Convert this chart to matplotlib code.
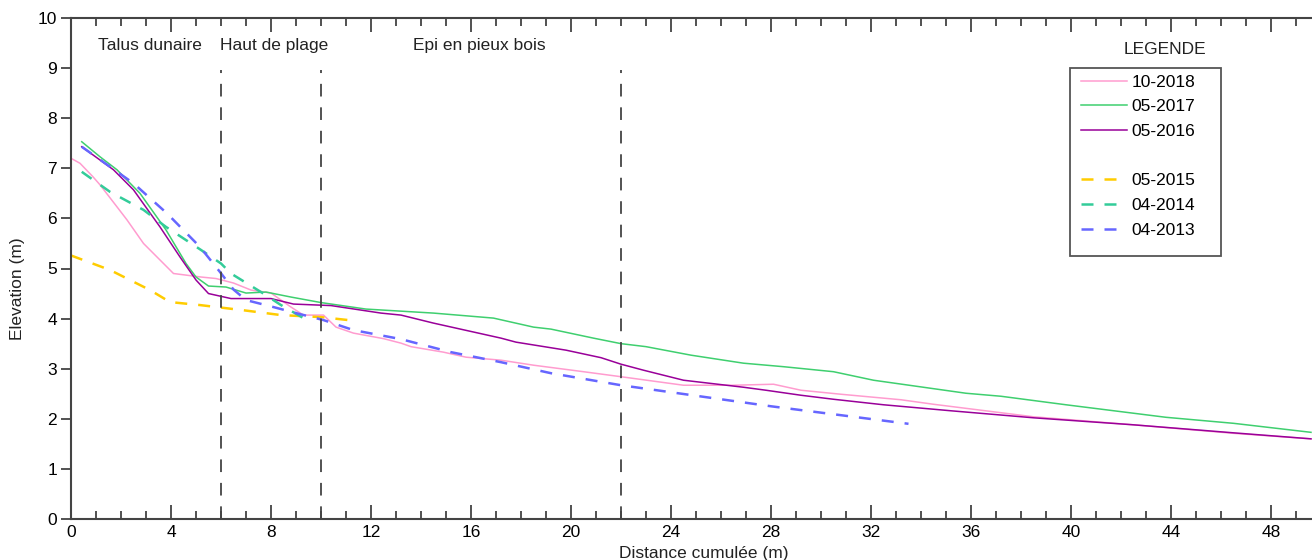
import matplotlib.pyplot as plt
from matplotlib.lines import Line2D
from matplotlib.patches import Rectangle

plt.rcParams['font.family'] = ['Liberation Sans', 'DejaVu Sans']

# profils de plage (distance cumulee m, elevation m)
x_2018 = [0, 0.36, 0.88, 1.16, 1.84, 2.24, 2.9, 3.56, 4.1, 5.2, 5.8, 6.5, 7.2, 8.0, 8.8,
          9.3, 10.1, 10.6, 11.3, 12.5, 13.2, 13.6, 14.9, 15.8, 17.2, 18.5, 20.5, 22.0,
          24.5, 26.5, 28.1, 29.2, 30.8, 33.2, 34.5, 38.5, 42.5, 46.5, 49.6]
y_2018 = [7.2, 7.1, 6.83, 6.67, 6.23, 5.97, 5.5, 5.17, 4.9, 4.83, 4.8, 4.71, 4.57, 4.51,
          4.23, 4.07, 4.07, 3.83, 3.71, 3.6, 3.51, 3.44, 3.33, 3.23, 3.17, 3.07, 2.94,
          2.84, 2.67, 2.67, 2.69, 2.57, 2.49, 2.38, 2.29, 2.04, 1.88, 1.71, 1.6]

x_2017 = [0.43, 1.16, 1.84, 2.76, 3.8, 4.6, 5.0, 5.5, 6.2, 7.0, 7.8, 8.8, 10.0, 11.8, 14.5,
          16.9, 18.5, 19.2, 20.9, 22.0, 23.0, 24.8, 26.9, 28.5, 30.5, 32.1, 35.8, 37.2,
          39.8, 43.8, 46.5, 49.6]
y_2017 = [7.53, 7.23, 6.97, 6.5, 5.77, 5.1, 4.83, 4.65, 4.63, 4.51, 4.53, 4.43, 4.32, 4.19,
          4.11, 4.01, 3.83, 3.79, 3.61, 3.5, 3.44, 3.27, 3.11, 3.04, 2.94, 2.77, 2.51,
          2.45, 2.28, 2.03, 1.91, 1.73]

x_2016 = [0.43, 1.7, 2.5, 3.56, 4.36, 5.0, 5.5, 6.4, 8.0, 8.9, 10.4, 12.4, 13.2, 14.5,
          17.2, 17.8, 19.8, 21.2, 22.0, 22.9, 24.5, 26.9, 27.8, 29.2, 30.5, 32.5, 35.2,
          38.5, 42.5, 46.5, 49.6]
y_2016 = [7.43, 6.97, 6.57, 5.83, 5.23, 4.77, 4.5, 4.4, 4.4, 4.29, 4.26, 4.11, 4.07, 3.91,
          3.61, 3.53, 3.37, 3.22, 3.09, 2.97, 2.77, 2.63, 2.57, 2.47, 2.39, 2.28, 2.16,
          2.02, 1.88, 1.72, 1.6]

x_2015 = [0, 1.56, 3.16, 3.96, 5.16, 6.0, 7.0, 8.4, 10.0, 11.1]
y_2015 = [5.26, 4.97, 4.57, 4.33, 4.27, 4.22, 4.16, 4.07, 4.03, 3.97]

x_2014 = [0.43, 1.56, 2.9, 3.8, 5.2, 6.0, 6.4, 7.6, 8.4, 9.3]
y_2014 = [6.93, 6.53, 6.17, 5.83, 5.37, 5.1, 4.9, 4.53, 4.27, 4.01]

x_2013 = [0.43, 2.5, 3.84, 5.16, 5.96, 6.5, 7.0, 8.1, 9.0, 10.1, 11.3, 13.2, 15.2, 17.2,
          19.2, 22.0, 28.0, 33.5]
y_2013 = [7.43, 6.7, 6.1, 5.43, 4.93, 4.58, 4.37, 4.23, 4.11, 3.97, 3.77, 3.59, 3.33,
          3.13, 2.91, 2.67, 2.25, 1.9]

# limites de zones
limites = [6, 10, 22]
zones = ['Talus dunaire', 'Haut de plage', 'Epi en pieux bois']
zones_x = [1.08, 5.96, 13.68]

fig = plt.figure(figsize=(13.12, 5.6), dpi=100)
ax = fig.add_axes([71/1312, 41/560, 1241/1312, 501/560])

fs = 12.5
tiret = (4.8, 4.4)

l1, = ax.plot(x_2018, y_2018, color='#ff9ccf', lw=1.1, label='10-2018')
l2, = ax.plot(x_2017, y_2017, color='#3fcf6f', lw=1.1, label='05-2017')
l3, = ax.plot(x_2016, y_2016, color='#990099', lw=1.1, label='05-2016')
l4, = ax.plot(x_2015, y_2015, color='#ffcc00', lw=1.8, dashes=tiret, label='05-2015')
l5, = ax.plot(x_2014, y_2014, color='#33cc99', lw=1.8, dashes=tiret, label='04-2014')
l6, = ax.plot(x_2013, y_2013, color='#6666ff', lw=1.8, dashes=tiret, label='04-2013')

for xl in limites:
    ax.plot([xl, xl], [0, 8.96], color='#444444', lw=1.3, dashes=(7, 6))

for t, xt in zip(zones, zones_x):
    ax.text(xt, 9.46, t, fontsize=fs, va='center', ha='left', color='#222222')

ax.set_xlim(0, 49.64)
ax.set_ylim(0, 10)
ax.set_xticks(range(0, 49, 4))
ax.set_xticks(range(0, 50), minor=True)
ax.set_yticks(range(0, 11))

ax.tick_params(axis='x', which='major', direction='in', length=10, width=1.2,
               top=True, labelsize=fs, color='#333333', pad=4)
ax.tick_params(axis='x', which='minor', direction='in', length=6, width=1.2,
               top=True, color='#333333')
ax.tick_params(axis='y', which='major', direction='out', length=7, width=1.2,
               labelsize=fs, color='#333333', pad=3)

for s in ['left', 'bottom', 'top']:
    ax.spines[s].set_color('#444444')
    ax.spines[s].set_linewidth(1.5)
ax.spines['right'].set_visible(False)

ax.set_xlabel('Distance cumulée (m)', fontsize=fs, color='#222222')
ax.xaxis.set_label_coords(0.51, -0.054)
ax.set_ylabel('Elevation (m)', fontsize=fs, color='#222222')
ax.yaxis.set_label_coords(-0.037, 0.46)

vide = Line2D([], [], color='none')
leg = ax.legend([l1, l2, l3, vide, l4, l5, l6],
                ['10-2018', '05-2017', '05-2016', ' ', '05-2015', '04-2014', '04-2013'],
                loc='upper left', bbox_to_anchor=(1078/1312, 1 - 71/560),
                bbox_transform=fig.transFigure, fontsize=fs, frameon=False,
                handlelength=2.6, handletextpad=0.3, labelspacing=0.55,
                borderpad=0.2, borderaxespad=0)

# cadre de la legende
fig.patches.append(Rectangle((1070/1312, 1 - 256/560), 151/1312, 188/560,
                             transform=fig.transFigure, fill=False,
                             edgecolor='#555555', lw=1.3))
fig.text(1165/1312, 1 - 50/560, 'LEGENDE', fontsize=fs, ha='center', va='center',
         color='#222222')

fig.savefig('out.png', dpi=100)
